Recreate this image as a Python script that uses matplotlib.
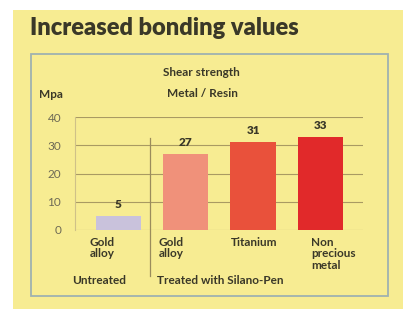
import matplotlib.pyplot as plt
from matplotlib.patches import Rectangle

categories = ['Gold\nalloy', 'Gold\nalloy', 'Titanium', 'Non\nprecious\nmetal']
values = [5, 27, 31, 33]
groups = ['Untreated', 'Treated with Silano-Pen']
yticks = [0, 10, 20, 30, 40]

W, H = 414, 309
bg = '#f7ec92'
ink = '#3a3828'
bar_colors = ['#c9c2dc', '#f0917a', '#e9513b', '#e1292a']
fs = 8.5

plt.rcParams['font.family'] = ['Lato', 'DejaVu Sans']
fig = plt.figure(figsize=(W / 100, H / 100), dpi=100)
fig.patch.set_facecolor('white')


def px(x, y):
    return x / W, 1 - y / H


# yellow card and inner frame
fig.add_artist(Rectangle(px(13, 309), 390 / W, 299 / H, transform=fig.transFigure,
                         facecolor=bg, edgecolor='none', zorder=-10))
fig.add_artist(Rectangle(px(31, 296), 357 / W, 242 / H, transform=fig.transFigure,
                         facecolor='none', edgecolor='#9fb2b0', lw=1.3, zorder=-5))

fig.text(*px(30, 28), 'Increased bonding values', fontsize=17, fontweight='heavy',
         color=ink, va='center', ha='left')
fig.text(*px(201, 73), 'Shear strength', fontsize=fs, fontweight='bold', color=ink,
         ha='center', va='center')
fig.text(*px(202, 94), 'Metal / Resin', fontsize=fs, fontweight='bold', color=ink,
         ha='center', va='center')
fig.text(*px(39, 95), 'Mpa', fontsize=fs, fontweight='bold', color=ink,
         ha='left', va='center')

ax = fig.add_axes([75 / W, 79 / H, 288 / W, 113 / H])
ax.set_facecolor('none')
ax.set_zorder(2)
x = list(range(len(values)))
ax.bar(x, values, width=0.67, color=bar_colors, zorder=2)
ax.set_xlim(-0.64, 3.63)
ax.set_ylim(0, 40)
ax.set_yticks(yticks)
ax.set_yticklabels([str(t) for t in yticks])
ax.tick_params(axis='y', length=0, pad=10, labelsize=8.5, labelcolor='#6e6a55')
ax.set_xticks([])
for t in yticks:
    ax.axhline(t, color='#a99a62', lw=0.8, zorder=1)
for s in ['top', 'right', 'bottom']:
    ax.spines[s].set_visible(False)
ax.spines['left'].set_color('#cfc188')
ax.spines['left'].set_linewidth(0.8)

for xi, v in zip(x, values):
    ax.text(xi, v + 2.2, str(v), ha='center', va='bottom', fontsize=fs,
            fontweight='heavy', color=ink)

# category labels under the bars
cat_x = [-0.42, 0.6, 2.02, 2.86]
cat_ha = ['left', 'left', 'center', 'left']
for cx, ha, lab in zip(cat_x, cat_ha, categories):
    ax.text(cx, -2.4, lab, ha=ha, va='top', fontsize=fs, fontweight='bold',
            color=ink, linespacing=1.05, clip_on=False)

# group labels and separator
for gx, lab in zip([-0.68, 0.58], groups):
    ax.text(gx, -17.7, lab, ha='left', va='center', fontsize=fs,
            fontweight='bold', color=ink, clip_on=False)
ax.plot([0.47, 0.47], [32.5, -16.2], color='#9a8c5c', lw=0.9, clip_on=False)

fig.savefig('out.png', dpi=100)
